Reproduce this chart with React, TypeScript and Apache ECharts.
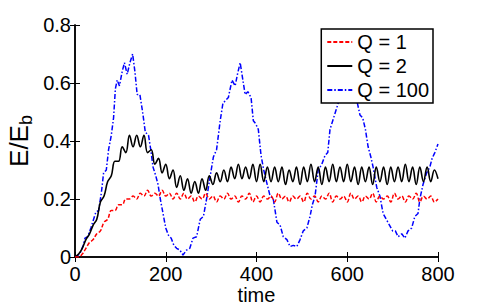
import React, { useEffect, useRef } from "react";
import * as echarts from "echarts";

const FONT = "'Liberation Sans', Arial, Helvetica, sans-serif";

const xTicks = [0, 200, 400, 600, 800];
const yTicks = [0, 0.2, 0.4, 0.6, 0.8];

// Shared sample times for Q = 1 and Q = 2
const timeQ = [
  0, 8, 16, 24, 32, 40, 48, 56, 64, 72,
  80, 88, 96, 104, 112, 120, 128, 136, 144, 152,
  160, 168, 176, 184, 192, 200, 208, 216, 224, 232,
  240, 248, 256, 264, 272, 280, 288, 296, 304, 312,
  320, 328, 336, 344, 352, 360, 368, 376, 384, 392,
  400, 408, 416, 424, 432, 440, 448, 456, 464, 472,
  480, 488, 496, 504, 512, 520, 528, 536, 544, 552,
  560, 568, 576, 584, 592, 600, 608, 616, 624, 632,
  640, 648, 656, 664, 672, 680, 688, 696, 704, 712,
  720, 728, 736, 744, 752, 760, 768, 776, 784, 792,
  800,
];

const valQ1 = [
  0.00, 0.00, 0.01, 0.03, 0.05, 0.06, 0.08, 0.09, 0.12, 0.13,
  0.16, 0.16, 0.18, 0.18, 0.20, 0.20, 0.21, 0.20, 0.22, 0.21,
  0.23, 0.21, 0.22, 0.21, 0.23, 0.21, 0.22, 0.20, 0.22, 0.20,
  0.22, 0.20, 0.21, 0.19, 0.21, 0.20, 0.22, 0.20, 0.21, 0.19,
  0.21, 0.20, 0.22, 0.20, 0.21, 0.19, 0.21, 0.20, 0.22, 0.19,
  0.21, 0.19, 0.21, 0.20, 0.21, 0.19, 0.22, 0.20, 0.21, 0.19,
  0.21, 0.20, 0.21, 0.19, 0.22, 0.20, 0.21, 0.19, 0.21, 0.20,
  0.22, 0.19, 0.21, 0.20, 0.21, 0.19, 0.22, 0.20, 0.21, 0.19,
  0.21, 0.20, 0.22, 0.19, 0.21, 0.20, 0.21, 0.19, 0.22, 0.20,
  0.21, 0.19, 0.21, 0.20, 0.22, 0.19, 0.21, 0.20, 0.21, 0.19,
  0.20,
];

const valQ2 = [
  0.00, 0.01, 0.03, 0.06, 0.08, 0.11, 0.13, 0.19, 0.21, 0.26,
  0.28, 0.33, 0.33, 0.38, 0.36, 0.42, 0.38, 0.42, 0.38, 0.42,
  0.36, 0.37, 0.32, 0.34, 0.29, 0.32, 0.27, 0.30, 0.24, 0.28,
  0.23, 0.27, 0.22, 0.26, 0.22, 0.27, 0.23, 0.28, 0.25, 0.29,
  0.26, 0.30, 0.26, 0.31, 0.27, 0.32, 0.27, 0.31, 0.27, 0.32,
  0.26, 0.32, 0.26, 0.31, 0.26, 0.31, 0.26, 0.31, 0.25, 0.30,
  0.26, 0.31, 0.25, 0.31, 0.26, 0.32, 0.26, 0.31, 0.25, 0.31,
  0.26, 0.32, 0.26, 0.31, 0.26, 0.32, 0.26, 0.31, 0.25, 0.31,
  0.26, 0.31, 0.25, 0.31, 0.26, 0.31, 0.25, 0.31, 0.26, 0.31,
  0.26, 0.32, 0.26, 0.31, 0.25, 0.31, 0.26, 0.31, 0.26, 0.30,
  0.27,
];

const timeQ100 = [
  0, 6, 11, 18, 22, 28, 35, 41, 46, 52, 58, 63, 69, 74, 80, 85, 89, 93, 98,
  104, 109, 115, 121, 127, 132, 137, 143, 149, 155, 162, 167, 172, 178, 183,
  188, 194, 200, 206, 212, 218, 224, 231, 238, 246, 253, 260, 268, 276, 283,
  290, 297, 305, 312, 320, 326, 332, 338, 346, 353, 358, 364, 370, 375, 381,
  388, 393, 398, 404, 410, 416, 422, 430, 437, 445, 452, 459, 467, 474, 481,
  489, 496, 503, 511, 518, 523, 529, 536, 544, 551, 557, 562, 568, 574, 580,
  586, 592, 598, 604, 610, 616, 621, 628, 634, 640, 646, 652, 657, 665, 672,
  679, 686, 693, 700, 706, 712, 720, 727, 734, 742, 749, 756, 760, 767, 775,
  782, 787, 793, 800,
];

const valQ100 = [
  0.00, 0.005, 0.012, 0.04, 0.065, 0.07, 0.10, 0.13, 0.155, 0.16, 0.22, 0.29, 0.30, 0.37, 0.42, 0.48, 0.58, 0.61, 0.59,
  0.64, 0.67, 0.63, 0.67, 0.70, 0.64, 0.56, 0.56, 0.50, 0.43, 0.42, 0.37, 0.31, 0.28, 0.25,
  0.20, 0.15, 0.10, 0.075, 0.065, 0.04, 0.03, 0.024, 0.007, 0.024, 0.03, 0.065, 0.07, 0.13, 0.14,
  0.20, 0.27, 0.345, 0.37, 0.47, 0.53, 0.54, 0.55, 0.61, 0.59, 0.63, 0.67, 0.61, 0.56, 0.57,
  0.55, 0.47, 0.46, 0.44, 0.35, 0.30, 0.26, 0.21, 0.20, 0.12, 0.11, 0.07, 0.06, 0.036, 0.04,
  0.036, 0.06, 0.09, 0.10, 0.14, 0.18, 0.21, 0.30, 0.32, 0.35, 0.36, 0.44, 0.47, 0.50, 0.53,
  0.58, 0.62, 0.60, 0.65, 0.62, 0.57, 0.54, 0.49, 0.48, 0.44, 0.38, 0.345, 0.31, 0.24, 0.21,
  0.15, 0.13, 0.11, 0.09, 0.09, 0.07, 0.08, 0.065, 0.09, 0.10, 0.14, 0.15, 0.20, 0.25, 0.29,
  0.31, 0.34, 0.36, 0.39,
];

const seriesNames = ["Q = 1", "Q = 2", "Q = 100"];

const pair = (ts: number[], vs: number[]) => ts.map((t, i) => [t, vs[i]]);

export default function App() {
  const ref = useRef<HTMLDivElement>(null);
  useEffect(() => {
    if (!ref.current) return;
    const chart = echarts.init(ref.current, undefined, { renderer: "svg" });
    const axisLine = { show: true, lineStyle: { color: "#000", width: 1.5 } };
    const axisTick = { show: true, inside: true, length: 5, lineStyle: { color: "#000", width: 1 } };
    const labelStyle = { color: "#000", fontSize: 20, fontFamily: FONT };
    chart.setOption({
      animation: false,
      backgroundColor: "#fff",
      grid: { left: 75, right: 53, top: 25, bottom: 50, containLabel: false, outerBoundsMode: "none" },
      legend: {
        orient: "vertical",
        right: 58,
        top: 29,
        data: seriesNames,
        backgroundColor: "#fff",
        borderColor: "#000",
        borderWidth: 1.5,
        borderRadius: 0,
        padding: [3, 4, 3, 5],
        itemGap: 4,
        itemWidth: 25,
        itemHeight: 14,
        itemStyle: { opacity: 0 },
        textStyle: { color: "#000", fontSize: 20, fontFamily: FONT },
      },
      xAxis: [
        {
          type: "value",
          min: xTicks[0],
          max: xTicks[xTicks.length - 1],
          interval: 200,
          position: "bottom",
          axisLine,
          axisTick,
          axisLabel: { ...labelStyle, lineHeight: 20, margin: 7 },
          splitLine: { show: false },
          name: "time",
          nameLocation: "middle",
          nameGap: 28,
          nameMoveOverlap: false,
          nameTextStyle: { ...labelStyle, fontSize: 20, lineHeight: 20 },
        },
        {
          type: "value",
          min: xTicks[0],
          max: xTicks[xTicks.length - 1],
          interval: 200,
          position: "top",
          axisLine,
          axisTick,
          axisLabel: { show: false },
          splitLine: { show: false },
        },
      ],
      yAxis: [
        {
          type: "value",
          min: yTicks[0],
          max: yTicks[yTicks.length - 1],
          interval: 0.2,
          position: "left",
          axisLine,
          axisTick,
          axisLabel: {
            ...labelStyle,
            margin: 4,
            formatter: (v: number) => (v === 0 ? "0" : v.toFixed(1)),
          },
          splitLine: { show: false },
          name: "{a|E/E}{b|b}",
          nameLocation: "middle",
          nameGap: 40,
          nameMoveOverlap: false,
          nameRotate: 90,
          nameTextStyle: {
            rich: {
              a: { fontSize: 26, fontFamily: FONT, color: "#000" },
              b: { fontSize: 18, fontFamily: FONT, color: "#000", padding: [15, 0, 0, 0] },
            },
          },
        },
        {
          type: "value",
          min: yTicks[0],
          max: yTicks[yTicks.length - 1],
          interval: 0.2,
          position: "right",
          axisLine,
          axisTick,
          axisLabel: { show: false },
          splitLine: { show: false },
        },
      ],
      series: [
        {
          name: seriesNames[0],
          type: "line",
          data: pair(timeQ, valQ1),
          symbol: "none",
          smooth: 0.4,
          lineStyle: { color: "#ff0000", width: 1.5, type: [4, 2] },
          itemStyle: { color: "#ff0000" },
          z: 3,
        },
        {
          name: seriesNames[1],
          type: "line",
          data: pair(timeQ, valQ2),
          symbol: "none",
          smooth: 0.4,
          lineStyle: { color: "#000000", width: 1.6, type: "solid" },
          itemStyle: { color: "#000000" },
          z: 2,
        },
        {
          name: seriesNames[2],
          type: "line",
          data: pair(timeQ100, valQ100),
          symbol: "none",
          lineStyle: { color: "#0000ff", width: 1.5, type: [5, 2, 1.5, 2] },
          itemStyle: { color: "#0000ff" },
          z: 1,
        },
      ],
    });
    return () => chart.dispose();
  }, []);
  return (
    <div
      ref={ref}
      style={{ position: "fixed", left: 0, top: 0, width: 491, height: 307, background: "#fff" }}
    />
  );
}
